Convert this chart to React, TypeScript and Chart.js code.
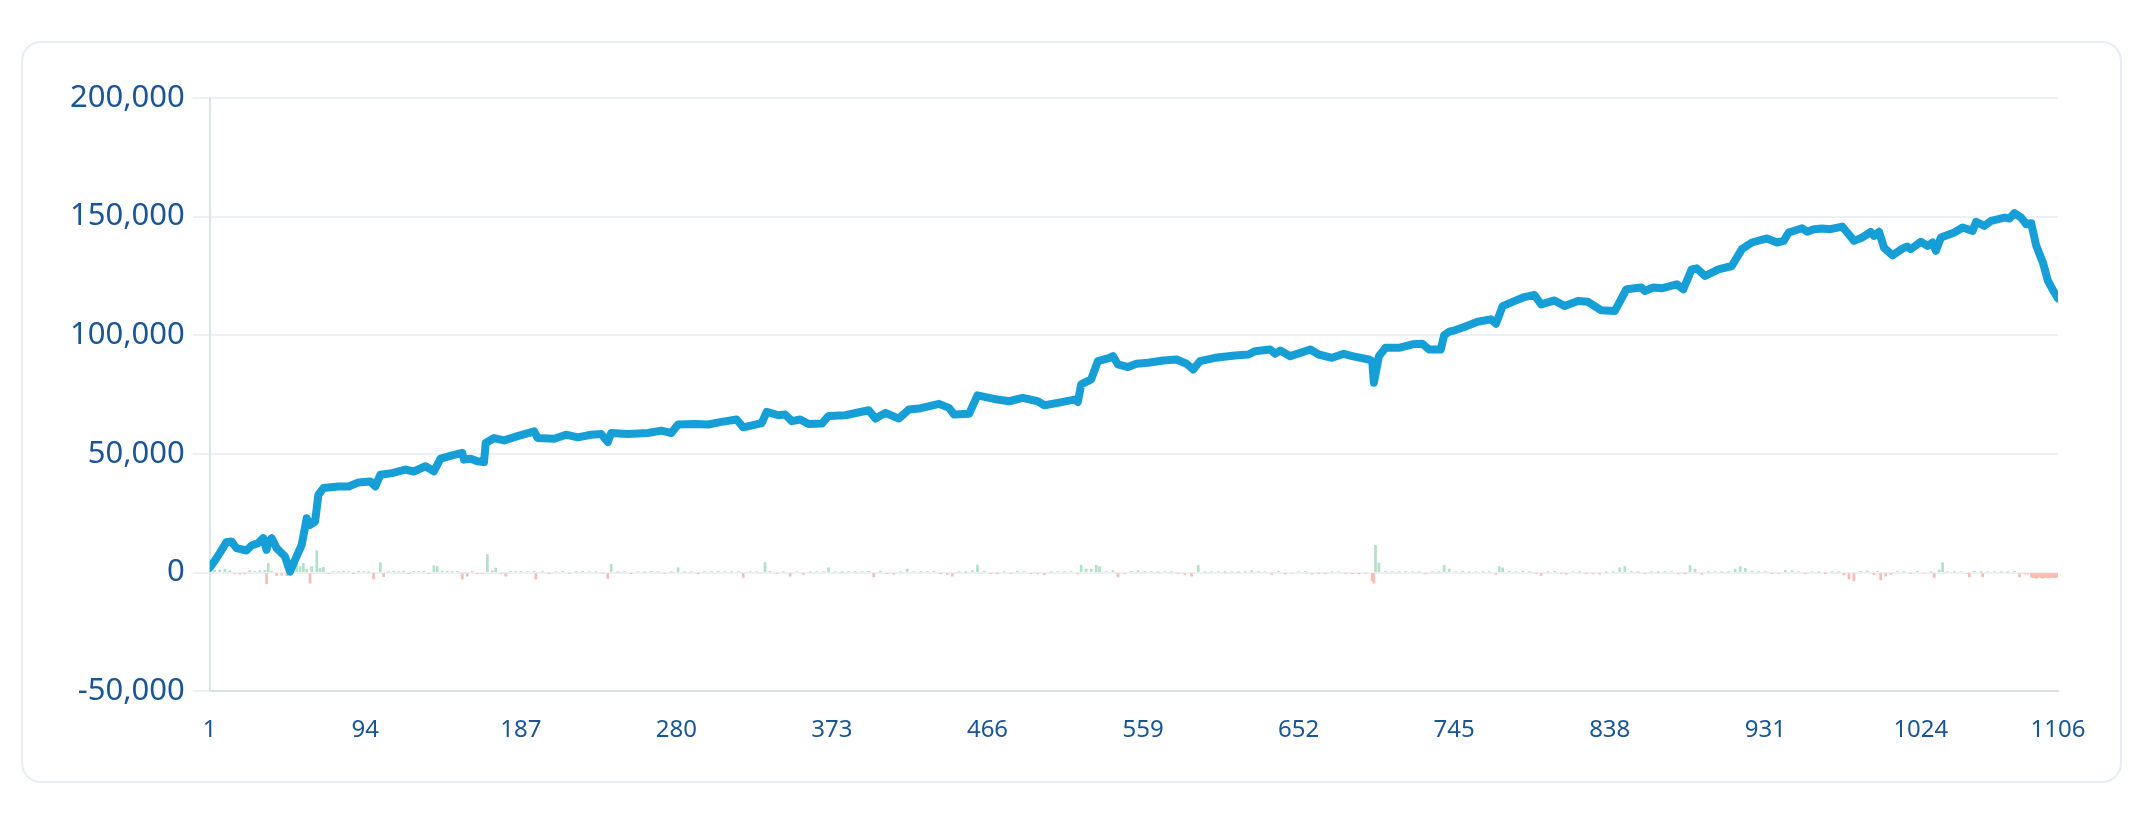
import { useEffect, useRef } from "react";
import { Chart, registerables } from "chart.js";

Chart.register(...registerables);

const xTickLabels = [1, 94, 187, 280, 373, 466, 559, 652, 745, 838, 931, 1024, 1106];
const yMin = -50000;
const yMax = 200000;
const yStep = 50000;

const equityTrade = [
  1, 4, 7, 11, 14, 17, 23, 26, 30, 33, 35, 36, 38, 41, 46, 49, 52, 56, 59, 61, 64, 66, 69, 78, 84, 90, 97, 100,
  103, 110, 118, 123, 130, 135, 139, 146, 152, 153, 157, 161, 165, 166, 171, 177, 185, 195, 197, 207, 214, 221,
  229, 235, 239, 241, 251, 263, 271, 277, 281, 291, 299, 307, 316, 320, 331, 334, 341, 345, 349, 354, 359, 367,
  371, 381, 395, 399, 405, 413, 419, 425, 437, 443, 446, 455, 460, 472, 479, 487, 496, 500, 508, 518, 520, 522,
  528, 532, 539, 541, 544, 550, 555, 562, 571, 579, 585, 589, 593, 602, 614, 622, 626, 635, 638, 641, 647, 653,
  659, 664, 672, 679, 684, 694, 696, 697, 700, 704, 712, 720, 726, 730, 737, 739, 742, 745, 751, 759, 767, 770,
  774, 781, 787, 793, 797, 805, 811, 819, 825, 833, 841, 848, 857, 859, 864, 869, 878, 882, 887, 890, 895, 903,
  911, 917, 923, 932, 938, 942, 945, 953, 956, 960, 965, 970, 977, 980, 984, 989, 994, 996, 999, 1002, 1007,
  1013, 1016, 1018, 1024, 1028, 1031, 1033, 1036, 1044, 1049, 1055, 1057, 1062, 1066, 1074, 1077, 1080, 1084,
  1087, 1090, 1093, 1097, 1100, 1103, 1106,
];
const equityValue = [
  2000, 5000, 8200, 12800, 13100, 10300, 9300, 11400, 12400, 14500, 9600, 13000, 14500, 10300, 6750, 400, 5300,
  11700, 22900, 20100, 21500, 32800, 35600, 36300, 36300, 38000, 38400, 36300, 41200, 41900, 43400, 42600, 44800,
  42600, 48000, 49400, 50400, 47600, 48000, 46900, 46600, 54600, 56700, 55700, 57500, 59500, 56700, 56400, 58100,
  57000, 58100, 58400, 55000, 58800, 58400, 58800, 59800, 58800, 62400, 62600, 62400, 63500, 64500, 61200, 63000,
  67700, 66300, 66600, 63800, 64500, 62600, 62800, 66000, 66300, 68400, 64900, 67300, 64900, 68700, 69100, 71100,
  69400, 66600, 66900, 74700, 72900, 72200, 73600, 72200, 70500, 71500, 72900, 71900, 79300, 81400, 89100, 90500,
  91200, 87700, 86600, 88000, 88400, 89400, 89800, 88000, 85600, 89100, 90500, 91500, 91900, 93300, 94000, 92200,
  93600, 91200, 92600, 94000, 91900, 90500, 92200, 91200, 89800, 89100, 80000, 91200, 94700, 94700, 96200, 96400,
  94000, 94000, 100000, 101500, 102000, 103500, 105700, 106700, 104900, 112300, 114400, 116100, 117000, 113000,
  114700, 112300, 114400, 114100, 110500, 110200, 119400, 120100, 118700, 120100, 119800, 121500, 119400, 127800,
  128200, 125000, 127800, 129200, 136300, 139100, 140800, 139100, 139800, 143300, 145100, 143600, 144700, 145000,
  144700, 145800, 143300, 139800, 141200, 143600, 141900, 143600, 136900, 133700, 136500, 137400, 136300, 139400,
  137700, 139100, 135600, 141200, 143300, 145400, 144000, 147800, 146100, 148200, 149600, 149200, 151500, 149600,
  146800, 147200, 137700, 130600, 122900, 119000, 115500,
];

const pnlTrade = [
  1, 4, 7, 10, 13, 16, 19, 22, 25, 28, 31, 34, 35, 36, 38, 41, 44, 47, 49, 51, 53, 55, 57, 59, 61, 62, 65, 67, 69,
  72, 75, 78, 81, 84, 87, 90, 93, 96, 99, 103, 105, 108, 111, 114, 117, 120, 123, 126, 129, 132, 135, 137, 140,
  143, 146, 149, 152, 155, 158, 161, 164, 167, 170, 172, 175, 178, 181, 184, 187, 191, 195, 196, 200, 204, 208,
  212, 216, 220, 224, 228, 232, 236, 239, 241, 245, 249, 253, 257, 261, 265, 269, 273, 277, 281, 285, 289, 293,
  297, 301, 305, 309, 313, 317, 320, 324, 328, 333, 336, 340, 344, 348, 352, 356, 360, 364, 368, 371, 375, 379,
  383, 387, 391, 395, 398, 402, 406, 410, 414, 418, 422, 426, 430, 434, 438, 442, 445, 449, 453, 457, 460, 464,
  468, 472, 476, 480, 484, 488, 492, 496, 500, 504, 508, 512, 516, 520, 522, 525, 528, 531, 533, 537, 541, 544,
  548, 552, 556, 560, 564, 568, 572, 576, 580, 584, 588, 592, 596, 600, 604, 608, 612, 616, 620, 624, 628, 632,
  636, 640, 644, 648, 652, 656, 660, 664, 668, 672, 676, 680, 684, 688, 692, 696, 697, 698, 700, 704, 708, 712,
  716, 720, 724, 728, 732, 736, 739, 742, 746, 750, 754, 758, 762, 766, 770, 772, 774, 778, 782, 786, 790, 794,
  797, 801, 805, 809, 812, 816, 820, 824, 828, 832, 836, 840, 844, 847, 851, 855, 859, 863, 867, 871, 875, 879,
  883, 886, 889, 893, 897, 901, 905, 909, 913, 916, 919, 923, 927, 931, 935, 939, 943, 947, 951, 955, 959, 963,
  967, 971, 975, 978, 981, 984, 988, 992, 996, 998, 1000, 1003, 1006, 1010, 1014, 1018, 1022, 1026, 1030, 1032,
  1035, 1037, 1040, 1044, 1048, 1052, 1053, 1056, 1060, 1061, 1064, 1068, 1072, 1076, 1080, 1083, 1086, 1088,
  1090, 1091, 1092, 1093, 1094, 1095, 1096, 1097, 1098, 1099, 1100, 1101, 1102, 1103, 1104, 1105, 1106,
];
const pnlValue = [
  600, 900, 1200, 1500, 700, -600, -700, -600, 800, 500, 700, 900, -4800, 3900, 600, -1200, -1100, -1300, -900,
  2000, 3500, 2500, 3900, 1500, -4500, 2500, 9300, 1800, 2200, -500, 400, 300, 500, 400, -300, 600, 400, 300,
  -2700, 4200, -1700, 400, 500, 300, 600, -400, 500, 400, 500, -500, 2800, 2500, 600, 500, 400, 500, -2800,
  -1500, 500, -600, -400, 7600, 700, 1900, -500, -1500, 500, 400, 500, 400, 600, -2800, 300, -300, 400, 500,
  -400, 300, 500, 400, 300, -400, -2500, 3500, 300, 400, -300, 400, 300, 500, 400, -400, 300, 2000, 300, 400,
  -300, 400, 300, 500, 400, 300, 400, -2000, 300, 400, 4200, 500, -500, 300, -1500, 400, -800, 300, 400, 300,
  2000, 400, 300, 400, 300, 400, 500, -1800, 600, -400, -700, 300, 1500, 400, 300, 400, 500, -300, -800, -1500,
  300, 200, 800, 3200, 600, -400, -300, 300, -400, 500, 400, -300, -600, -900, 300, 400, 300, 400, -700, 3000,
  1500, 1500, 3000, 2500, 400, 800, -1800, -400, 500, 800, 300, 400, 300, 400, 300, -400, -800, -1500, 3000,
  300, 400, 300, 200, 300, 200, 300, 800, 300, 400, -800, 600, -600, -500, 400, 500, -700, -500, -400, 300, 400,
  -400, -300, -300, -400, -3500, -4500, 11500, 4000, 500, 300, 300, 400, 400, 300, -600, 300, 300, 3000, 1500,
  400, 500, 300, 400, 300, 400, -800, 2500, 2000, 500, 400, 500, 300, -500, -1200, 300, 500, -400, -700, 400,
  300, -300, -600, -700, 200, 300, 2000, 2500, 400, 300, -500, 300, 200, 300, 400, -600, -300, 3000, 1500, -800,
  300, 400, 300, 300, 1500, 2500, 1800, 600, 300, 400, -300, -400, 900, 700, 400, -500, 400, 200, -200, 300, 300,
  -1000, -2700, -3500, 500, 600, -900, 500, -3100, -1500, -800, 400, 300, -500, 500, -400, 300, -2100, 1000,
  4200, 400, 300, 400, -400, -1800, 500, 300, -1800, 400, 300, 300, 200, 500, -1800, -600, -700, -1800, -2200,
  -2000, -2500, -2000, -1800, -2200, -2400, -2000, -1900, -2300, -2000, -2100, -1900, -2200, -2000, -1800,
];

const LINE_COLOR = "#169fd6";
const GAIN_COLOR = "#b3e0c8";
const LOSS_COLOR = "#f7bdb2";
const TEXT_COLOR = "#1a5596";
const FONT = "'Noto Sans', sans-serif";

export default function App() {
  const canvasRef = useRef<HTMLCanvasElement | null>(null);

  useEffect(() => {
    const canvas = canvasRef.current;
    if (!canvas) return;
    const lineData = equityTrade.map((t, i) => ({ x: t, y: equityValue[i] }));
    const barData = pnlTrade.map((t, i) => ({ x: t, y: pnlValue[i] }));
    const chart = new Chart(canvas, {
      type: "bar",
      data: {
        datasets: [
          {
            type: "line",
            data: lineData,
            borderColor: LINE_COLOR,
            borderWidth: 8,
            pointRadius: 0,
            tension: 0,
            borderJoinStyle: "round",
            borderCapStyle: "round",
            fill: false,
            order: 0,
          } as any,
          {
            type: "bar",
            data: barData,
            backgroundColor: pnlValue.map((v) => (v >= 0 ? GAIN_COLOR : LOSS_COLOR)),
            borderWidth: 0,
            barThickness: 2,
            order: 1,
          } as any,
        ],
      },
      options: {
        animation: false,
        responsive: true,
        maintainAspectRatio: false,
        layout: { padding: { left: 39, top: 55, right: 62, bottom: 11 } },
        plugins: { legend: { display: false }, tooltip: { enabled: false } },
        scales: {
          x: {
            type: "linear",
            min: 1,
            max: 1106,
            offset: false,
            afterBuildTicks: (scale: any) => {
              scale.ticks = xTickLabels.map((v) => ({ value: v }));
            },
            ticks: {
              autoSkip: false,
              maxRotation: 0,
              padding: 25,
              color: TEXT_COLOR,
              font: { family: FONT, size: 24 },
              callback: (v: any) => String(v),
            },
            grid: { display: false, drawTicks: false },
            border: { display: true, color: "#d9dee4", width: 2 },
          },
          y: {
            min: yMin,
            max: yMax,
            ticks: {
              stepSize: yStep,
              padding: 8,
              color: TEXT_COLOR,
              font: { family: FONT, size: 31 },
            },
            grid: { color: "#edf1f5", lineWidth: 2, tickLength: 17 },
            border: { display: true, color: "#dde2e7", width: 2 },
          },
        },
      } as any,
    });
    return () => chart.destroy();
  }, []);

  return (
    <div style={{ paddingTop: 33, paddingLeft: 13 }}>
      <div
        style={{
          width: 2101,
          height: 742,
          boxSizing: "border-box",
          border: "2px solid #e6edf4",
          borderRadius: 20,
          background: "#fff",
          position: "relative",
        }}
      >
        <div style={{ position: "absolute", left: 0, top: 0, right: 0, bottom: 0 }}>
          <canvas ref={canvasRef} />
        </div>
      </div>
    </div>
  );
}
